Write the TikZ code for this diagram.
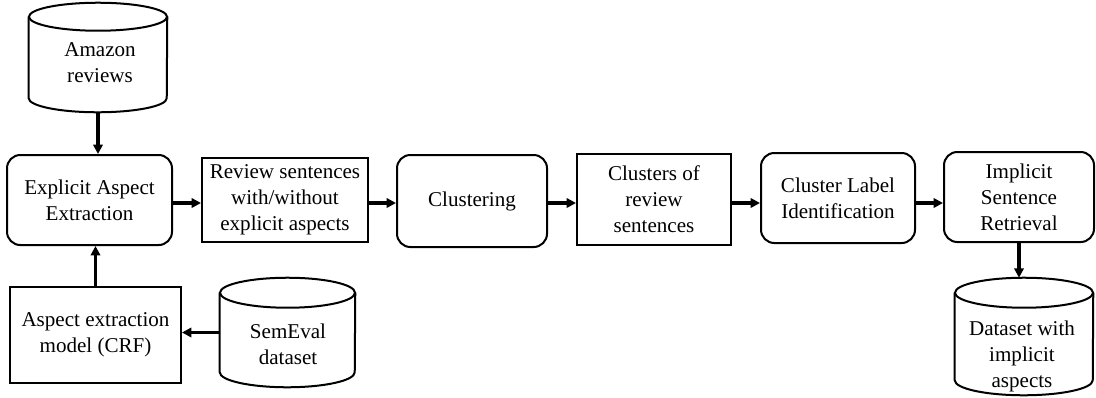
\documentclass[tikz,border=0pt]{standalone}
\usepackage{fontspec}
\setmainfont{Liberation Serif}
\usetikzlibrary{arrows.meta,calc}
\newcommand\fs{\fontsize{15.8pt}{19.5pt}\selectfont}
\newcommand\drawcyl[3]{%
  \draw[cylline] ($(#1.north)+(0pt,-#3)$) ellipse [x radius=#2, y radius=#3];
  \draw[cylline] ($(#1.north west)+(0pt,-#3)$) -- ($(#1.south west)+(0pt,#3)$)
     arc[start angle=180, end angle=360, x radius=#2, y radius=#3]
     -- ($(#1.north east)+(0pt,-#3)$);
}
\begin{document}
\begin{tikzpicture}[x=0.75pt,y=-0.75pt,
  box/.style={draw, line width=1.5pt, align=center, font=\fs, inner sep=0pt},
  rbox/.style={box, rounded corners=10pt},
  cylshape/.style={inner sep=0pt, draw=none},
  cylline/.style={line width=1.5pt},
  txt/.style={align=center, font=\fs, inner sep=0pt},
  arr/.style={-{Triangle[length=7pt,width=7pt]}, line width=2.4pt}]
\useasboundingbox (0,0) rectangle (1096,397);

\node[rbox, minimum width=123.75pt, minimum height=67.5pt] (explicit) at (89.5,200) {Explicit Aspect\\Extraction};
\node[box, minimum width=124.5pt, minimum height=63pt] (review) at (285,200) {Review sentences\\with/without\\explicit aspects};
\node[rbox, minimum width=112.5pt, minimum height=69pt] (clustering) at (472,201) {Clustering};
\node[box, minimum width=115.5pt, minimum height=68.25pt] (clusters) at (654,199.5) {Clusters of\\review\\sentences};
\node[rbox, minimum width=115.5pt, minimum height=67.5pt] (cli) at (838,198) {Cluster Label\\Identification};
\node[rbox, minimum width=112.5pt, minimum height=67.5pt] (isr) at (1019,197) {Implicit\\Sentence\\Retrieval};
\node[box, minimum width=128.25pt, minimum height=72pt] (model) at (95.5,335) {Aspect extraction\\model (CRF)};

\node[cylshape, minimum width=103.5pt, minimum height=81.75pt] (amazon) at (98,57.5) {};
\drawcyl{amazon}{51.75pt}{10.5pt}
\node[txt] (amazontext) at (100,63) {Amazon\\reviews};

\node[cylshape, minimum width=101.25pt, minimum height=81.75pt] (semeval) at (287.5,332.5) {};
\drawcyl{semeval}{50.625pt}{11.25pt}
\node[txt] (semevaltext) at (288,344) {SemEval\\dataset};

\node[cylshape, minimum width=103.5pt, minimum height=87.75pt] (dataset) at (1024,336.5) {};
\drawcyl{dataset}{51.75pt}{11.25pt}
\node[txt] (datasettext) at (1022,356) {Dataset with\\implicit\\aspects};

\draw[arr] (amazon.south) -- (amazon.south |- explicit.north);
\draw[arr] (model.north) -- (model.north |- explicit.south);
\draw[arr] (semeval.west) -- (semeval.west -| model.east);
\draw[arr] ([yshift=-2.25pt]explicit.east) -- ([yshift=-2.25pt]explicit.east -| review.west);
\draw[arr] ([yshift=-2.25pt]review.east) -- ([yshift=-2.25pt]review.east -| clustering.west);
\draw[arr] ([yshift=-1.5pt]clustering.east) -- ([yshift=-1.5pt]clustering.east -| clusters.west);
\draw[arr] ([yshift=-2.625pt]clusters.east) -- ([yshift=-2.625pt]clusters.east -| cli.west);
\draw[arr] ([yshift=-3.75pt]cli.east) -- ([yshift=-3.75pt]cli.east -| isr.west);
\draw[arr] (isr.south) -- (isr.south |- dataset.north);
\end{tikzpicture}
\end{document}
